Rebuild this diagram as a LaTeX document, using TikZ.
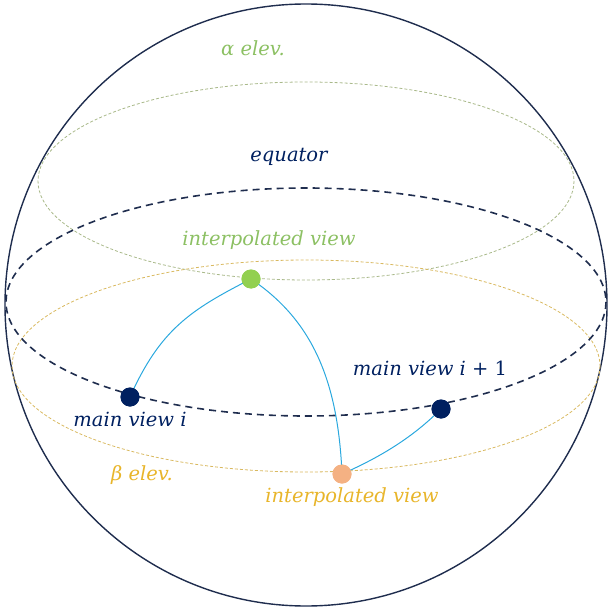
\documentclass[tikz,border=0pt]{standalone}
\usepackage{fontspec}
\setmainfont{DejaVu Serif}
\begin{document}
\begin{tikzpicture}[x=1pt,y=-1pt,
  lbl/.style={font=\fontsize{19.5}{22}\selectfont\itshape, inner sep=0pt},
  dot/.style={circle, inner sep=0pt, minimum size=19pt},
  link/.style={draw=linkc, line width=1pt}]
\definecolor{navy}{HTML}{1F2D4E}
\definecolor{dnavy}{HTML}{002060}
\definecolor{grn}{HTML}{92D050}
\definecolor{grntxt}{HTML}{8CC063}
\definecolor{org}{HTML}{F4B183}
\definecolor{gold}{HTML}{E8B52A}
\definecolor{linkc}{HTML}{2AA8DE}
\definecolor{alphac}{HTML}{A9B98A}
\definecolor{betac}{HTML}{D9B960}
\useasboundingbox (0,0) rectangle (608,609);
% sphere
\draw[navy, line width=1.4pt] (306,305) circle (301);
% ellipses
\draw[alphac, line width=0.8pt, dash pattern=on 3pt off 2pt] (306,181) ellipse [x radius=268, y radius=99];
\draw[betac, line width=0.8pt, dash pattern=on 3pt off 2pt] (306,366) ellipse [x radius=294, y radius=106];
\draw[navy, line width=1.6pt, dash pattern=on 7pt off 5pt] (306,302) ellipse [x radius=300, y radius=114];
% dots
\node[dot, fill=grn] (g) at (251,279) {};
\node[dot, fill=dnavy] (mi) at (130,397) {};
\node[dot, fill=dnavy] (mj) at (441,409) {};
\node[dot, fill=org] (o) at (342,474) {};
% connectors
\draw[link] (mi.center) .. controls (160,330) and (190,310) .. (g.center);
\draw[link] (g.center) .. controls (312,320) and (338,380) .. (o.center);
\draw[link] (o.center) .. controls (385,455) and (415,435) .. (mj.center);
\fill[grn] (g) circle (9.5);
\fill[dnavy] (mi) circle (9.5);
\fill[dnavy] (mj) circle (9.5);
\fill[org] (o) circle (9.5);
% labels
\node[lbl, text=grntxt] (la) at (253,48) {α elev.};
\node[lbl, text=dnavy] (le) at (289,157) {equator};
\node[lbl, text=grntxt] (lg) at (269,240) {interpolated view};
\node[lbl, text=dnavy] (lmi) at (130,419) {main view i};
\node[lbl, text=dnavy] (lmj) at (430,368) {main view i \textup{+ 1}};
\node[lbl, text=gold] (lb) at (142,475) {β elev.};
\node[lbl, text=gold] (lo) at (352,497) {interpolated view};
\end{tikzpicture}
\end{document}
